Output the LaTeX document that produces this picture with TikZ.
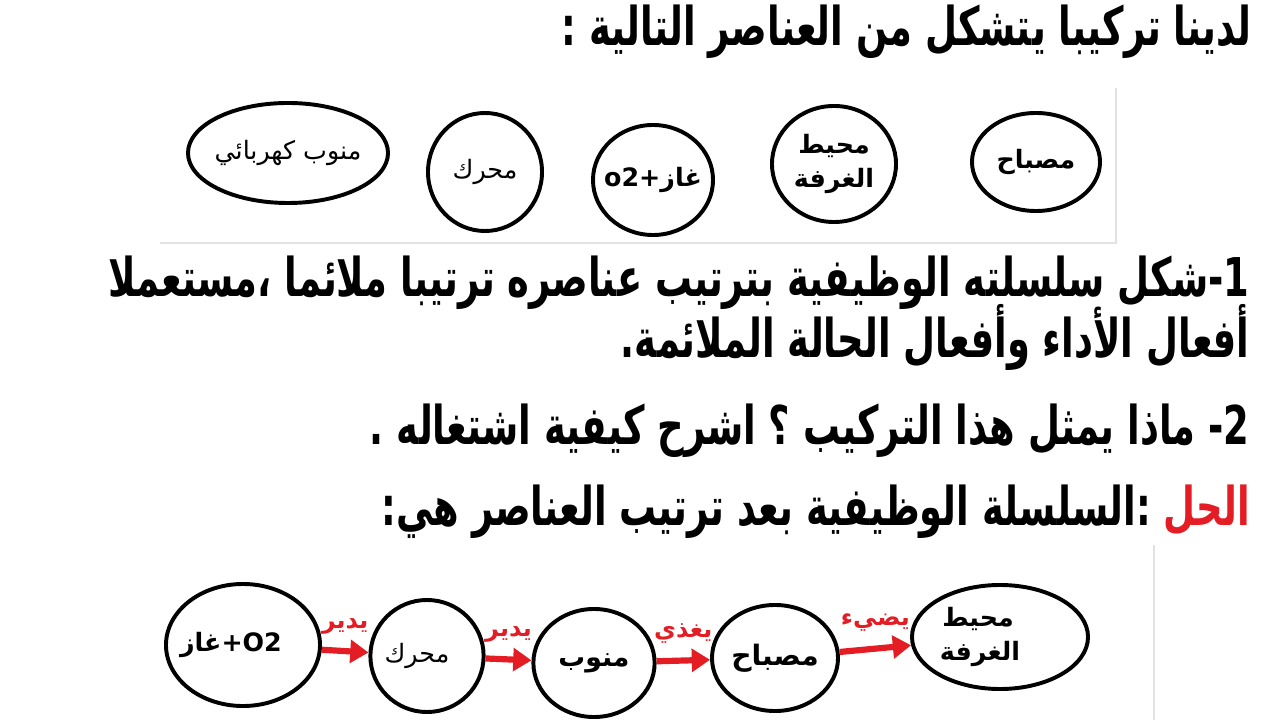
\documentclass[tikz,border=0pt]{standalone}
\usepackage{fontspec}
\setmainfont{DejaVu Sans}
\newfontfamily\arabicfont[Script=Arabic]{DejaVu Sans}
\newfontfamily\narrowfont[Script=Arabic, FakeStretch=0.69]{DejaVu Sans}
\TeXXeTstate=1
\usepackage{xcolor}
\usepackage{tikz}
\usetikzlibrary{arrows.meta,positioning,shapes}

\definecolor{solred}{RGB}{228,28,36}
\definecolor{framegray}{RGB}{226,226,226}
\newcommand\ar[1]{{\arabicfont\beginR #1\endR}}
\newcommand\nar[1]{{\narrowfont\beginR #1\endR}}

\begin{document}
\begin{tikzpicture}[x=0.025cm, y=-0.025cm]

\tikzstyle{element} = [draw, ellipse, line width=2.8pt, inner xsep=-0.5cm, inner ysep=-0.3cm, align=center, font=\fontsize{18}{24}\selectfont]
\tikzstyle{strong} = [font=\fontsize{18}{24}\selectfont\bfseries]
\tikzstyle{line} = [anchor=base east, inner sep=0pt, font=\fontsize{38}{44}\selectfont\bfseries]
\tikzstyle{flow} = [draw=solred, line width=4.4pt, -{Triangle[length=13pt, width=16pt]}, solred]
\tikzstyle{verb} = [above=0.35cm, inner sep=0pt, text=solred, font=\fontsize{17}{20}\selectfont\bfseries]

\useasboundingbox (0,0) rectangle (1280,720);

% statement
\node [line] (title) at (1252,46) {\nar{لدينا تركيبا يتشكل من العناصر التالية :}};

% the elements, unordered
\draw [framegray, line width=0.8pt] (160,243) -- (1116,243) -- (1116,88);
\node [element, minimum width=5cm, minimum height=2.5cm] (supply) at (288,153) {\ar{منوب كهربائي}};
\node [element, minimum width=2.85cm, minimum height=2.95cm] (motor) at (485,172) {\ar{محرك}};
\node [element, strong, minimum width=3cm, minimum height=2.75cm] (gas) at (653,180) {o2+\ar{غاز}};
\node [element, strong, minimum width=3.1cm, minimum height=2.9cm] (room) at (834,164) {\ar{محيط}\\\ar{الغرفة}};
\node [element, strong, minimum width=3.2cm, minimum height=2.45cm] (lamp) at (1036,162) {\ar{مصباح}};

% questions
\node [line] (q1) at (1250,297) {\nar{1-شكل سلسلته الوظيفية بترتيب عناصره ترتيبا ملائما ،مستعملا}};
\node [line] (q1b) at (1250,358) {\nar{أفعال الأداء وأفعال الحالة الملائمة.}};
\node [line] (q2) at (1250,445) {\nar{2- ماذا يمثل هذا التركيب ؟ اشرح كيفية اشتغاله .}};
\node [line, text=solred] (solution) at (1250,525) {\nar{الحل}};
\node [line, xshift=-0.3cm] (answer) at (solution.base west) {\nar{:السلسلة الوظيفية بعد ترتيب العناصر هي:}};

% functional chain
\draw [framegray, line width=0.8pt] (1154,545) -- (1154,720);
\node [element, strong, minimum width=3.85cm, minimum height=3.05cm] (gas2) at (243,645) {\ar{غاز}+O2\hspace{0.6cm}};
\node [element, minimum width=2.83cm, minimum height=2.8cm] (motor2) at (427,656) {\ar{محرك}\hspace{0.5cm}};
\node [element, strong, minimum width=3.03cm, minimum height=2.7cm, font=\fontsize{19}{24}\selectfont\bfseries] (supply2) at (594,663) {\ar{منوب}};
\node [element, strong, minimum width=3.15cm, minimum height=2.65cm, font=\fontsize{20}{24}\selectfont\bfseries] (lamp2) at (775,658) {\ar{مصباح}};
\node [element, strong, minimum width=4.4cm, minimum height=2.6cm] (room2) at (1000,637) {\ar{محيط}\hspace*{1.1cm}\\\ar{الغرفة}\hspace*{1cm}};

\draw [flow] (gas2) -- node[verb] {\ar{يدير}} (motor2);
\draw [flow] (motor2) -- node[verb] {\ar{يدير}} (supply2);
\draw [flow] (supply2) -- node[verb] {\ar{يغذي}} (lamp2);
\draw [flow] (lamp2) -- node[verb] {\ar{يضيء}} (room2);
\end{tikzpicture}
\end{document}
